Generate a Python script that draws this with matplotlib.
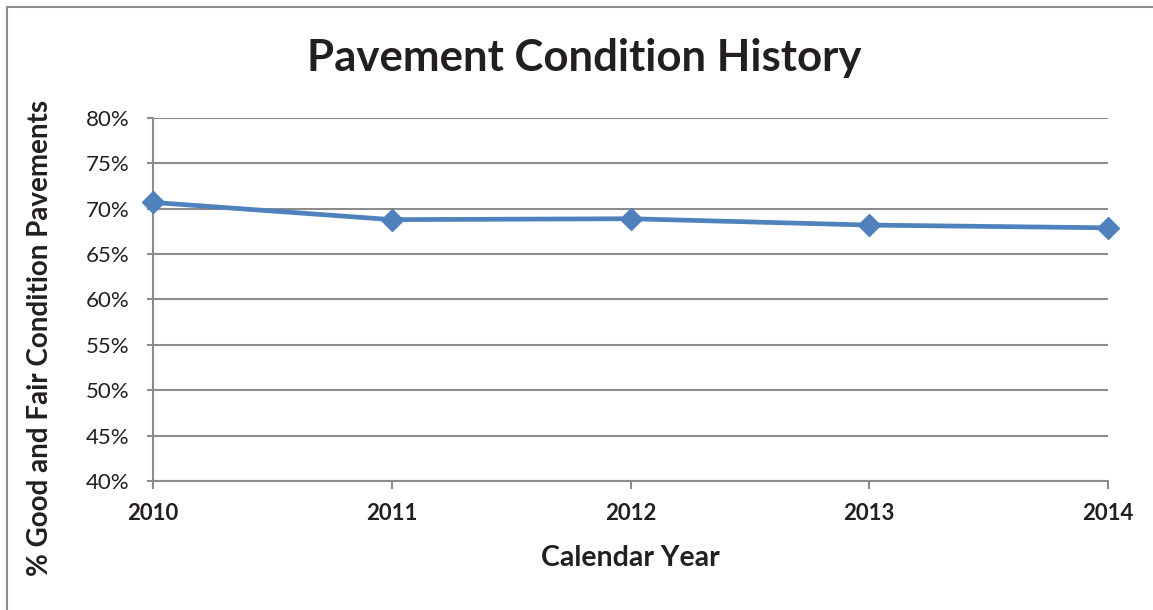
import matplotlib.pyplot as plt
from matplotlib.patches import Rectangle
from matplotlib.ticker import PercentFormatter

years = ["2010", "2011", "2012", "2013", "2014"]
pct_good_fair = [70.7, 68.8, 68.9, 68.2, 67.9]
y_ticks = [40, 45, 50, 55, 60, 65, 70, 75, 80]

BLUE = "#4F81BD"
GRID = "#8C8C8C"
TEXT = "#231F20"

plt.rcParams["font.family"] = ["Lato", "DejaVu Sans"]

fig = plt.figure(figsize=(11.53, 6.10), dpi=100)
ax = fig.add_axes([153 / 1153, 1 - 481 / 610, (1108 - 153) / 1153, (481 - 118) / 610])

# outer chart border
fig.patches.append(Rectangle((7 / 1153, -0.01), 1.0, 1 - 7 / 610 + 0.01,
                             transform=fig.transFigure, fill=False,
                             edgecolor="#8C8C8C", linewidth=1.5))

x = list(range(len(years)))
ax.plot(x, pct_good_fair, color=BLUE, linewidth=3.4, marker="D",
        markersize=11.5, markeredgecolor=BLUE, clip_on=False, zorder=5)

ax.set_xlim(0, len(years) - 1)
ax.set_ylim(40, 80)
ax.set_yticks(y_ticks)
ax.yaxis.set_major_formatter(PercentFormatter(decimals=0))
ax.set_xticks(x)
ax.set_xticklabels(years, fontsize=16, fontweight="bold", color=TEXT)
for lbl in ax.get_yticklabels():
    lbl.set_fontsize(16)
    lbl.set_color(TEXT)

ax.grid(axis="y", color=GRID, linewidth=1.5)
ax.set_axisbelow(True)
for side in ["top", "right"]:
    ax.spines[side].set_visible(False)
for side in ["left", "bottom"]:
    ax.spines[side].set_color(GRID)
    ax.spines[side].set_linewidth(1.5)
ax.tick_params(axis="x", direction="out", length=6, width=1.5, color=GRID, pad=10)
ax.tick_params(axis="y", direction="out", length=4, width=1.5, color=GRID, pad=13)

fig.text(584 / 1153, 1 - 58 / 610, "Pavement Condition History", ha="center", va="center",
         fontsize=31.5, fontweight="bold", color=TEXT)
fig.text(630 / 1153, 1 - 558 / 610, "Calendar Year", ha="center", va="center",
         fontsize=20.5, fontweight="bold", color=TEXT)
fig.text(40 / 1153, 1 - 338 / 610, "% Good and Fair Condition Pavements", ha="center",
         va="center", rotation=90, fontsize=20, fontweight="bold", color=TEXT)

fig.savefig("out.png", dpi=100)
